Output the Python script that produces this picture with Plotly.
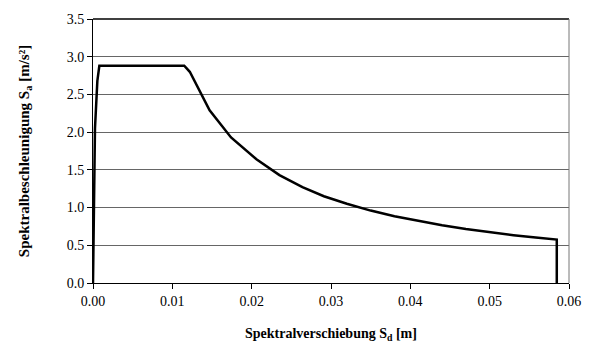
import plotly.graph_objects as go

# Capacity / demand spectrum in ADRS format (Sd in m, Sa in m/s²)
sd_m = [0.0, 0.00025, 0.00055, 0.0008, 0.0115, 0.0122, 0.0147, 0.0174, 0.0206,
        0.0235, 0.0264, 0.0291, 0.0320, 0.0350, 0.0380, 0.0410, 0.0440, 0.0470,
        0.0500, 0.0530, 0.0558, 0.05846, 0.05846]
sa_ms2 = [0.0, 2.05, 2.68, 2.88, 2.88, 2.80, 2.29, 1.93, 1.64,
          1.43, 1.27, 1.15, 1.05, 0.96, 0.885, 0.82, 0.765, 0.715,
          0.672, 0.634, 0.602, 0.575, 0.0]

x_ticks = [0.00, 0.01, 0.02, 0.03, 0.04, 0.05, 0.06]
y_ticks = [0.0, 0.5, 1.0, 1.5, 2.0, 2.5, 3.0, 3.5]

font_family = "'Times New Roman', 'Liberation Serif', 'DejaVu Serif', serif"

fig = go.Figure()
fig.add_trace(go.Scatter(
    x=sd_m, y=sa_ms2, mode="lines",
    line=dict(color="black", width=2.5),
    showlegend=False, hoverinfo="skip",
))

fig.update_layout(
    width=593, height=356,
    margin=dict(l=93, r=22, t=19, b=73),
    paper_bgcolor="white", plot_bgcolor="white",
    font=dict(family=font_family, size=14, color="black"),
    xaxis=dict(
        range=[0, 0.06], tickvals=x_ticks,
        ticktext=[f"{v:.2f}" for v in x_ticks],
        showgrid=False, zeroline=False,
        showline=True, linecolor="black", linewidth=1,
        ticks="outside", ticklen=5, tickcolor="black",
        tickfont=dict(family=font_family, size=14),
        title=dict(text="<b>Spektralverschiebung S<sub>d</sub> [m]</b>",
                   font=dict(family=font_family, size=14), standoff=20),
    ),
    yaxis=dict(
        range=[0, 3.5], tickvals=y_ticks,
        ticktext=[f"{v:.1f}" for v in y_ticks],
        showgrid=True, gridcolor="#666666", gridwidth=1,
        zeroline=False,
        showline=True, linecolor="black", linewidth=1,
        ticks="outside", ticklen=5, tickcolor="black",
        tickfont=dict(family=font_family, size=14),
        title=dict(text="<b>Spektralbeschleunigung S<sub>a</sub> [m/s²]</b>",
                   font=dict(family=font_family, size=15), standoff=33),
    ),
    shapes=[
        dict(type="line", xref="paper", yref="paper", x0=0, x1=1, y0=1, y1=1,
             line=dict(color="black", width=1.5)),
        dict(type="line", xref="paper", yref="paper", x0=1, x1=1, y0=0, y1=1,
             line=dict(color="#777777", width=1)),
    ],
)

fig.write_html("out.html")
